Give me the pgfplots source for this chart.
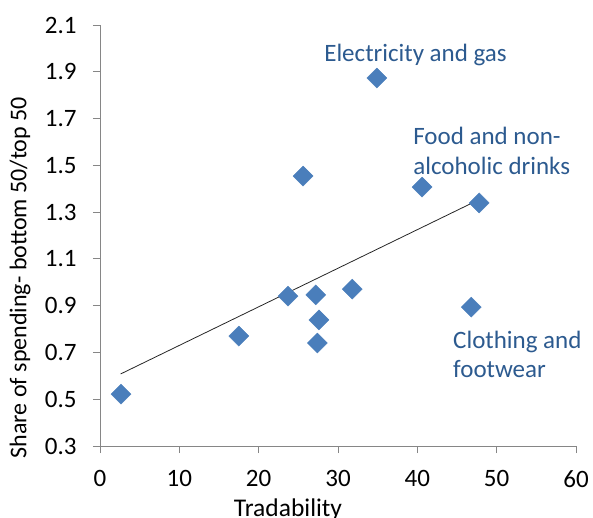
\documentclass[border=0pt]{standalone}
\usepackage{fontspec}
\setmainfont{Carlito}
\usepackage{pgfplots}
\pgfplotsset{compat=1.18}
\definecolor{mk}{HTML}{4A7EBB}
\definecolor{lab}{HTML}{2C5A8F}
\definecolor{axgray}{HTML}{868686}
\begin{document}
\begin{tikzpicture}
\begin{axis}[
  scale only axis, width=476bp, height=421bp,
  xmin=0, xmax=60, ymin=0.3, ymax=2.1,
  xtick={0,10,20,30,40,50,60},
  ytick={0.3,0.5,0.7,0.9,1.1,1.3,1.5,1.7,1.9,2.1},
  axis lines*=left,
  axis line style={axgray, line width=0.8bp},
  tick style={axgray, line width=0.8bp},
  tick align=outside, major tick length=7bp,
  every tick label/.append style={font=\fontsize{25bp}{30bp}\selectfont, text=black},
  /pgf/number format/assume math mode=true,
  yticklabel style={xshift=-13bp, /pgf/number format/fixed, /pgf/number format/fixed zerofill, /pgf/number format/precision=1},
  xticklabel style={yshift=-14bp},
  xlabel={Tradability},
  ylabel={Share of spending- bottom 50/top 50},
  every axis x label/.style={at={(axis description cs:0.395,-0.1663)}, anchor=base, font=\fontsize{25.5bp}{30bp}\selectfont},
  every axis y label/.style={at={(axis description cs:-0.1681,0.40)}, rotate=90, anchor=center, font=\fontsize{24bp}{30bp}\selectfont},
  clip=false,
]
\addplot[only marks, mark=square*, mark size=7.07bp, mark options={rotate=45, fill=mk, draw=mk}] coordinates {
  (2.65,0.522) (17.5,0.77) (23.7,0.941) (27.2,0.946) (27.6,0.839) (27.4,0.74)
  (31.8,0.971) (25.6,1.454) (34.9,1.873) (40.6,1.407) (47.8,1.339) (46.8,0.894)
};
\addplot[no marks, color=black!85, line width=0.8bp] coordinates {(2.6,0.608) (47.7,1.352)};
\coordinate (O) at (rel axis cs:0,0);
\node[anchor=base west, text=lab, font=\fontsize{25bp}{30bp}\selectfont, inner sep=0pt] at (axis cs:28.25,1.942) {Electricity and gas};
\node[anchor=base west, text=lab, font=\fontsize{25bp}{30bp}\selectfont, inner sep=0pt] at (axis cs:39.47,1.587) {Food and non-};
\node[anchor=base west, text=lab, font=\fontsize{25bp}{30bp}\selectfont, inner sep=0pt] at (axis cs:39.47,1.459) {alcoholic drinks};
\node[anchor=base west, text=lab, font=\fontsize{25bp}{30bp}\selectfont, inner sep=0pt] at (axis cs:44.5,0.719) {Clothing and};
\node[anchor=base west, text=lab, font=\fontsize{25bp}{30bp}\selectfont, inner sep=0pt] at (axis cs:44.5,0.591) {footwear};
\end{axis}
\pgfresetboundingbox
\path (O) ++(-100bp,-72bp) rectangle ++(593bp,518bp);
\end{tikzpicture}
\end{document}
